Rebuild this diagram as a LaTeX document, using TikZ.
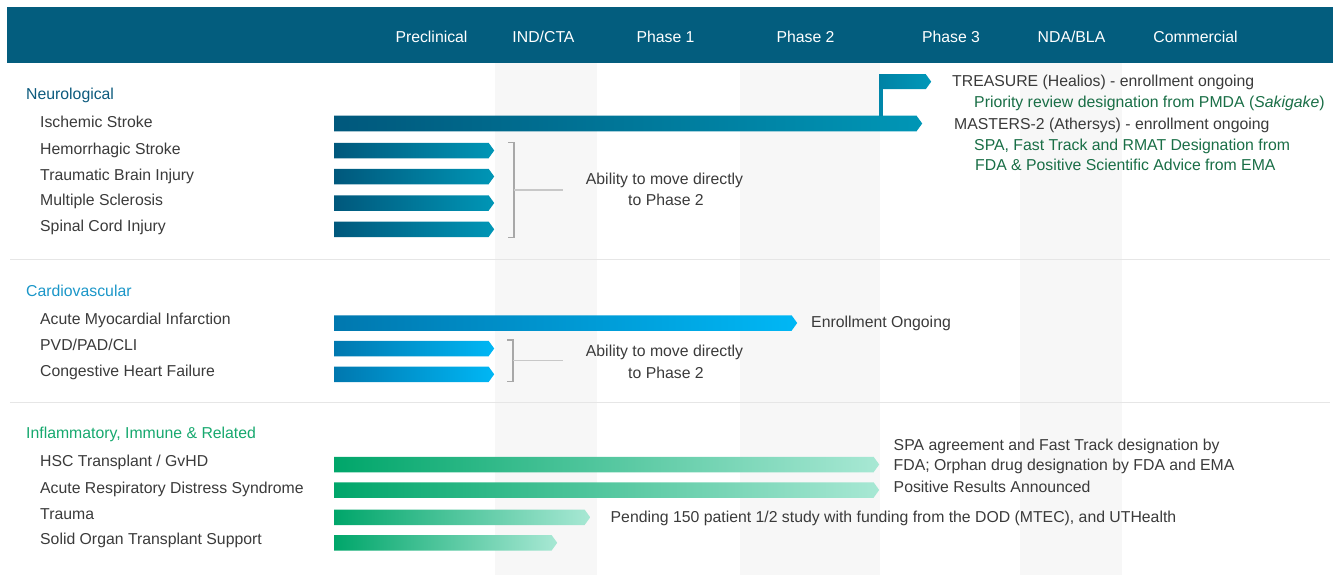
\documentclass[tikz,border=0pt]{standalone}
\usepackage{fontspec}
\setmainfont{Liberation Sans}
\usetikzlibrary{shapes, calc}

\definecolor{headblue}{RGB}{3,93,126}
\definecolor{bandgray}{RGB}{247,247,247}
\definecolor{rulegray}{RGB}{230,230,230}
\definecolor{bracegray}{RGB}{168,168,168}
\definecolor{linkgray}{RGB}{200,200,200}
\definecolor{bodygray}{RGB}{58,58,58}
\definecolor{notegreen}{RGB}{25,110,70}
\definecolor{neurohead}{RGB}{12,90,125}
\definecolor{cardhead}{RGB}{26,150,200}
\definecolor{inflhead}{RGB}{22,168,110}
\definecolor{neuroA}{RGB}{0,88,124}
\definecolor{neuroB}{RGB}{0,150,182}
\definecolor{treasA}{RGB}{0,130,165}
\definecolor{treasB}{RGB}{0,152,185}
\definecolor{treaslink}{RGB}{0,135,170}
\definecolor{cardA}{RGB}{0,120,175}
\definecolor{cardB}{RGB}{0,183,245}
\definecolor{inflA}{RGB}{0,166,106}
\definecolor{inflB}{RGB}{168,232,212}

\begin{document}
\begin{tikzpicture}[x=1pt, y=-1pt]
	\tikzstyle{every node}=[font=\fontsize{15.8}{18}\selectfont, text=bodygray, inner sep=0pt]
	\tikzstyle{phase}=[anchor=base, text=white]
	\tikzstyle{areatitle}=[anchor=base west]
	\tikzstyle{indication}=[anchor=base west]
	\tikzstyle{remark}=[anchor=base west]
	\tikzstyle{note}=[anchor=base west, text=notegreen]
	\tikzstyle{skip}=[anchor=base]
	\tikzstyle{stagebar}=[signal, signal to=east, signal pointer angle=108,
		anchor=west, minimum height=15.5pt, draw=none]
	\tikzstyle{nbar}=[stagebar, left color=neuroA, right color=neuroB]
	\tikzstyle{cbar}=[stagebar, left color=cardA, right color=cardB]
	\tikzstyle{ibar}=[stagebar, left color=inflA, right color=inflB]
	\tikzstyle{bracket}=[draw=bracegray, line width=1.2pt]
	\tikzstyle{bracketlink}=[draw=linkgray, line width=1.2pt]

	\useasboundingbox (0,0) rectangle (1340,575);

	% stage columns and header
	\fill[bandgray] (495,63) rectangle (597,575);
	\fill[bandgray] (740,63) rectangle (880,575);
	\fill[bandgray] (1020,63) rectangle (1122,575);
	\draw[rulegray, line width=1pt] (10,259.5) -- (1330,259.5);
	\draw[rulegray, line width=1pt] (10,402) -- (1330,402);
	\fill[headblue] (7,7) rectangle (1333,63);
	\foreach \x/\t [count=\i] in {431.5/Preclinical, 543.5/{IND/CTA},
		665.5/Phase 1, 805.5/Phase 2, 951/Phase 3, 1071.5/{NDA/BLA},
		1195.5/Commercial}
		\node[phase] (phase\i) at (\x,43) {\t};

	% neurological
	\node[areatitle, text=neurohead] (neuro) at (26,99.5) {Neurological};
	\node[indication] (ischemic) at (40,128) {Ischemic Stroke};
	\node[indication] (hemorrhagic) at (40,154) {Hemorrhagic Stroke};
	\node[indication] (tbi) at (40,180) {Traumatic Brain Injury};
	\node[indication] (ms) at (40,205.5) {Multiple Sclerosis};
	\node[indication] (sci) at (40,231) {Spinal Cord Injury};

	\node[nbar, minimum width=588pt] (ischemicbar) at (334,123.5) {};
	\node[nbar, left color=treasA, right color=treasB, minimum width=52pt,
		minimum height=15pt] (treasurebar) at (879,81.7) {};
	\foreach \y/\n in {150.5/hemorrhagic, 176.5/tbi, 203/ms, 229.3/sci}
		\node[nbar, minimum width=160pt] (\n bar) at (334,\y) {};

	\coordinate (treasurefoot) at ($(treasurebar.south west)+(2.15,0)$);
	\draw[treaslink, line width=4.3pt] (treasurefoot) -- (treasurefoot |- ischemicbar.north);

	\coordinate (neurotop) at (514,142.5);
	\coordinate (neurobot) at (514,237.5);
	\coordinate (neuromid) at ($(neurotop)!.5!(neurobot)$);
	\draw[bracket] ($(neurotop)+(-6,0)$) -- (neurotop) -- (neurobot) -- ($(neurobot)+(-6,0)$);
	\draw[bracketlink] (neuromid) -- ++(49,0);
	\node[skip] (neuroskipa) at (664.5,184) {Ability to move directly};
	\node[skip] (neuroskipb) at (666,205) {to Phase 2};

	\node[remark] (treasure) at (952,86.5) {TREASURE (Healios) - enrollment ongoing};
	\node[note] (sakigake) at (974,108) {Priority review designation from PMDA (\textit{Sakigake})};
	\node[remark] (masters) at (954,129.5) {MASTERS-2 (Athersys) - enrollment ongoing};
	\node[note] (rmat) at (974,150.5) {SPA, Fast Track and RMAT Designation from};
	\node[note] (ema) at (975,170) {FDA \& Positive Scientific Advice from EMA};

	% cardiovascular
	\node[areatitle, text=cardhead] (cardio) at (26,296.5) {Cardiovascular};
	\node[indication] (ami) at (40,324.5) {Acute Myocardial Infarction};
	\node[indication] (pvd) at (40,350.5) {PVD/PAD/CLI};
	\node[indication] (chf) at (40,376) {Congestive Heart Failure};

	\node[cbar, minimum width=463pt] (amibar) at (334,323) {};
	\node[cbar, minimum width=160pt] (pvdbar) at (334,348.5) {};
	\node[cbar, minimum width=160pt] (chfbar) at (334,374.3) {};

	\coordinate (cardtop) at (513,340);
	\coordinate (cardbot) at (513,381.5);
	\coordinate (cardmid) at ($(cardtop)!.5!(cardbot)$);
	\draw[bracket] ($(cardtop)+(-6,0)$) -- (cardtop) -- (cardbot) -- ($(cardbot)+(-6,0)$);
	\draw[bracketlink] (cardmid) -- ++(50,0);
	\node[skip] (cardskipa) at (664.5,356.5) {Ability to move directly};
	\node[skip] (cardskipb) at (666,378) {to Phase 2};
	\node[remark] (amistatus) at (811,327.5) {Enrollment Ongoing};

	% inflammatory, immune & related
	\node[areatitle, text=inflhead] (infl) at (26,438.3) {Inflammatory, Immune \& Related};
	\node[indication] (hsc) at (40,466.7) {HSC Transplant / GvHD};
	\node[indication] (ards) at (40,493.3) {Acute Respiratory Distress Syndrome};
	\node[indication] (trauma) at (40,519.3) {Trauma};
	\node[indication] (solid) at (40,544.3) {Solid Organ Transplant Support};

	\node[ibar, minimum width=545pt] (hscbar) at (334,464.5) {};
	\node[ibar, minimum width=545pt] (ardsbar) at (334,490) {};
	\node[ibar, minimum width=256pt] (traumabar) at (334,517.3) {};
	\node[ibar, minimum width=223pt] (solidbar) at (334,542.8) {};

	\node[remark] (hscstatusa) at (893.5,450.7) {SPA agreement and Fast Track designation by};
	\node[remark] (hscstatusb) at (893.5,470) {FDA; Orphan drug designation by FDA and EMA};
	\node[remark] (ardsstatus) at (893.5,492.7) {Positive Results Announced};
	\node[remark] (traumastatus) at (610.5,522.7) {Pending 150 patient 1/2 study with funding from the DOD (MTEC), and UTHealth};
\end{tikzpicture}
\end{document}
